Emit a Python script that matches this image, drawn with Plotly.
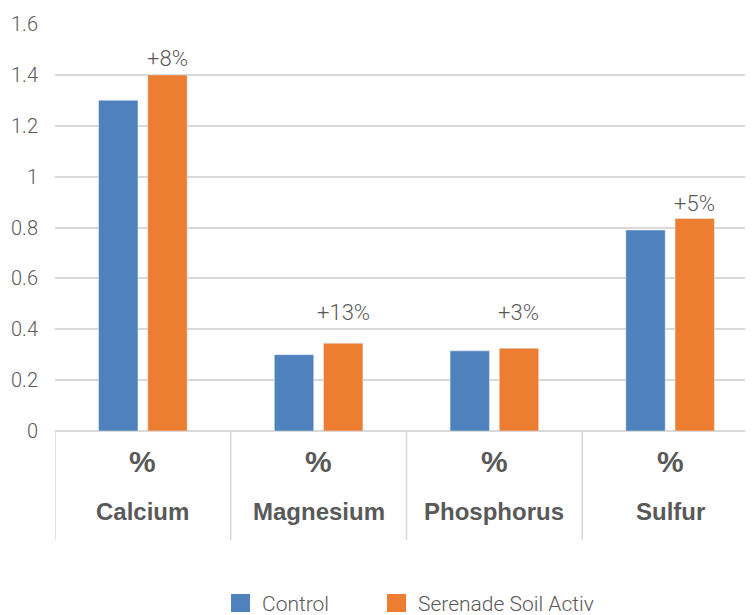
import plotly.graph_objects as go

# data
nutrients = ["Calcium", "Magnesium", "Phosphorus", "Sulfur"]
unit = "%"
series_names = ["Control", "Serenade Soil Activ"]
control = [1.30, 0.30, 0.315, 0.79]
serenade = [1.40, 0.345, 0.325, 0.835]
change_labels = ["+8%", "+13%", "+3%", "+5%"]
y_ticks = [0, 0.2, 0.4, 0.6, 0.8, 1, 1.2, 1.4, 1.6]

BLUE = "#4F81BD"
ORANGE = "#ED7D31"
TEXT = "#595959"
GRID = "#D9D9D9"
FONT = "Liberation Sans"
LIGHT = "Roboto"

fig = go.Figure()
fig.add_trace(go.Bar(x=nutrients, y=control, name=series_names[0], marker_color=BLUE))
fig.add_trace(go.Bar(x=nutrients, y=serenade, name=series_names[1], marker_color=ORANGE))

# change labels sit above the orange bars (pixel lift tuned per group)
label_lift = [16, 31, 36, 15]
for nut, val, txt, lift in zip(nutrients, serenade, change_labels, label_lift):
    fig.add_annotation(
        x=nut, y=val, text=txt, showarrow=False,
        xshift=24.5, yshift=lift, yanchor="middle",
        font=dict(family=LIGHT, size=22, color=TEXT, weight=300),
    )

# two-level category labels under the axis
for nut in nutrients:
    fig.add_annotation(x=nut, y=-0.076, yref="paper", yanchor="middle",
                       text=f"<b>{unit}</b>", showarrow=False,
                       font=dict(family=FONT, size=30, color=TEXT))
    fig.add_annotation(x=nut, y=-0.197, yref="paper", yanchor="middle",
                       text=f"<b>{nut}</b>", showarrow=False,
                       font=dict(family=FONT, size=24, color=TEXT))

# group dividers below the axis
for i in range(len(nutrients)):
    fig.add_shape(type="line", xref="x", yref="paper", x0=i - 0.5, x1=i - 0.5,
                  y0=0, y1=-0.268, line=dict(color=GRID, width=1.5))

# legend drawn by hand so the swatches match the reference size
legend_items = [(series_names[0], BLUE, 0.2504), (series_names[1], ORANGE, 0.4723)]
for name, col, x0 in legend_items:
    fig.add_shape(type="rect", xref="paper", yref="paper", x0=x0, x1=x0 + 0.027,
                  y0=-0.4447, y1=-0.4005, fillcolor=col, line=dict(width=0))
    fig.add_annotation(x=x0 + 0.0412, y=-0.424, xref="paper", yref="paper",
                       xanchor="left", yanchor="middle", text=name, showarrow=False,
                       font=dict(family=LIGHT, size=21, color=TEXT, weight=300))

# page body adds an 8px offset; the plot area runs a little past the right edge
fig.update_layout(
    width=750, height=607,
    margin=dict(l=47, r=0, t=16, b=184),
    plot_bgcolor="white", paper_bgcolor="white",
    barmode="group", bargap=0.44, bargroupgap=0.2,
    font=dict(family=FONT, size=20, color=TEXT),
    showlegend=False,
)

fig.update_yaxes(
    range=[0, 1.6], tickvals=y_ticks, ticktext=[f"{v:g}" for v in y_ticks],
    showgrid=True, gridcolor=GRID, gridwidth=1.5,
    zeroline=True, zerolinecolor=GRID, zerolinewidth=1.5,
    showline=False, ticks="", ticklabelstandoff=16, automargin=False,
    tickfont=dict(family=LIGHT, size=20, color=TEXT, weight=300),
)
fig.update_xaxes(
    showline=False, ticks="", showticklabels=False, automargin=False,
    range=[-0.5, len(nutrients) - 0.5],
)

fig.write_html("out.html")
